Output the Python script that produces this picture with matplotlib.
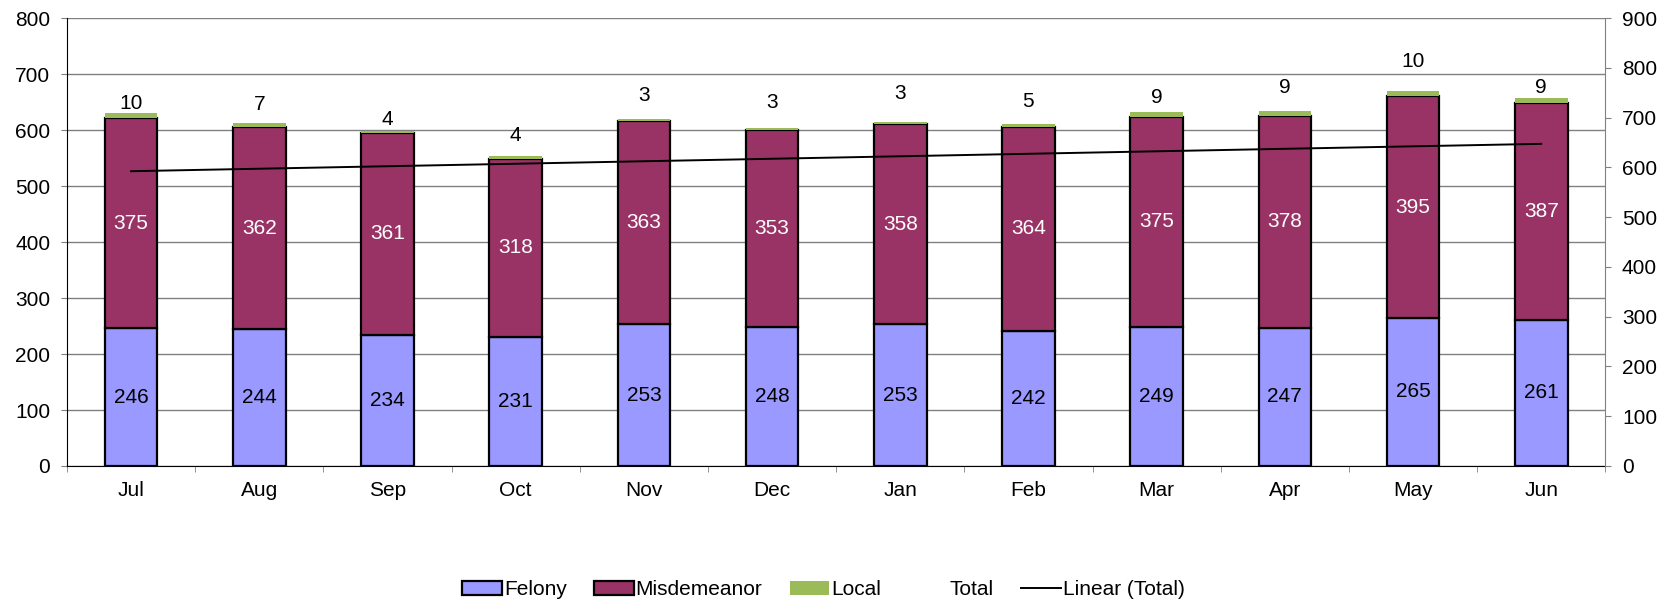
import numpy as np
import matplotlib
matplotlib.use("Agg")
import matplotlib.pyplot as plt
from matplotlib.patches import Patch
from matplotlib.lines import Line2D

plt.rcParams["font.family"] = ["Liberation Sans", "DejaVu Sans"]

months = ["Jul", "Aug", "Sep", "Oct", "Nov", "Dec", "Jan", "Feb", "Mar", "Apr", "May", "Jun"]
felony = [246, 244, 234, 231, 253, 248, 253, 242, 249, 247, 265, 261]
misdemeanor = [375, 362, 361, 318, 363, 353, 358, 364, 375, 378, 395, 387]
local = [10, 7, 4, 4, 3, 3, 3, 5, 9, 9, 10, 9]
# the Local labels were nudged by hand in the original, gap in points above the bar
local_gap = [3, 9, 4, 11, 13, 14, 17, 12, 6, 13, 17, 4]

felony = np.array(felony)
misdemeanor = np.array(misdemeanor)
local = np.array(local)
total = felony + misdemeanor + local

fs = 15
fig = plt.figure(figsize=(16.67, 6.03), dpi=100)
ax = fig.add_axes([0.0402, 0.2272, 0.9228, 0.7428])
x = np.arange(len(months))
w = 0.41

ax.bar(x, felony, w, color="#9999FF", edgecolor="black", linewidth=1.6, zorder=3)
ax.bar(x, misdemeanor, w, bottom=felony, color="#993366", edgecolor="black", linewidth=1.6, zorder=3)
ax.bar(x, local, w, bottom=felony + misdemeanor, color="#9BBB59", linewidth=0, zorder=3)

for i in range(len(months)):
    ax.text(x[i], felony[i] / 2, str(felony[i]), ha="center", va="center", fontsize=fs, zorder=5)
    ax.text(x[i], felony[i] + misdemeanor[i] / 2, str(misdemeanor[i]), ha="center", va="center",
            fontsize=fs, color="white", zorder=5)
    ax.annotate(str(local[i]), (x[i], total[i]), xytext=(0, local_gap[i]), textcoords="offset points",
                ha="center", va="baseline", fontsize=fs, zorder=5)

ax.set_xlim(-0.5, len(months) - 0.5)
ax.set_ylim(0, 800)
ax.set_yticks(range(0, 801, 100))
ax.grid(axis="y", color="#808080", linewidth=1, zorder=0)
ax.set_xticks(x)
ax.set_xticklabels(months, fontsize=fs)
ax.tick_params(axis="x", length=0, pad=11)
ax.set_xticks(np.arange(-0.5, len(months)), minor=True)
ax.tick_params(axis="x", which="minor", length=4, color="#808080", direction="out")
ax.tick_params(axis="y", labelsize=fs, length=4, pad=8, color="#808080")
for s in ["top", "right"]:
    ax.spines[s].set_visible(False)
ax.spines["left"].set_color("black")
ax.spines["bottom"].set_color("black")

# total on secondary axis, only its trend line is visible
ax2 = ax.twinx()
ax2.set_ylim(0, 900)
ax2.set_yticks(range(0, 901, 100))
ax2.tick_params(axis="y", labelsize=fs, length=4, pad=8, color="#808080")
for s in ["top", "left", "bottom"]:
    ax2.spines[s].set_visible(False)
ax2.spines["right"].set_color("#808080")
coef = np.polyfit(x, total, 1)
ax2.plot(x, np.polyval(coef, x), color="black", linewidth=1.4, zorder=6)

handles = [
    Patch(facecolor="#9999FF", edgecolor="black", linewidth=1.6),
    Patch(facecolor="#993366", edgecolor="black", linewidth=1.6),
    Patch(facecolor="#9BBB59", edgecolor="none"),
    Line2D([], [], linestyle="none"),
    Line2D([], [], color="black", linewidth=1.4),
]
labels = ["Felony", "Misdemeanor", "Local", "Total", "Linear (Total)"]
fig.legend(handles, labels, loc="center", bbox_to_anchor=(0.494, 0.022), ncol=5, frameon=False,
           fontsize=fs, handlelength=1.9, handletextpad=0.1, columnspacing=1.3,
           borderpad=0, borderaxespad=0)

fig.savefig("out.png", dpi=100)
